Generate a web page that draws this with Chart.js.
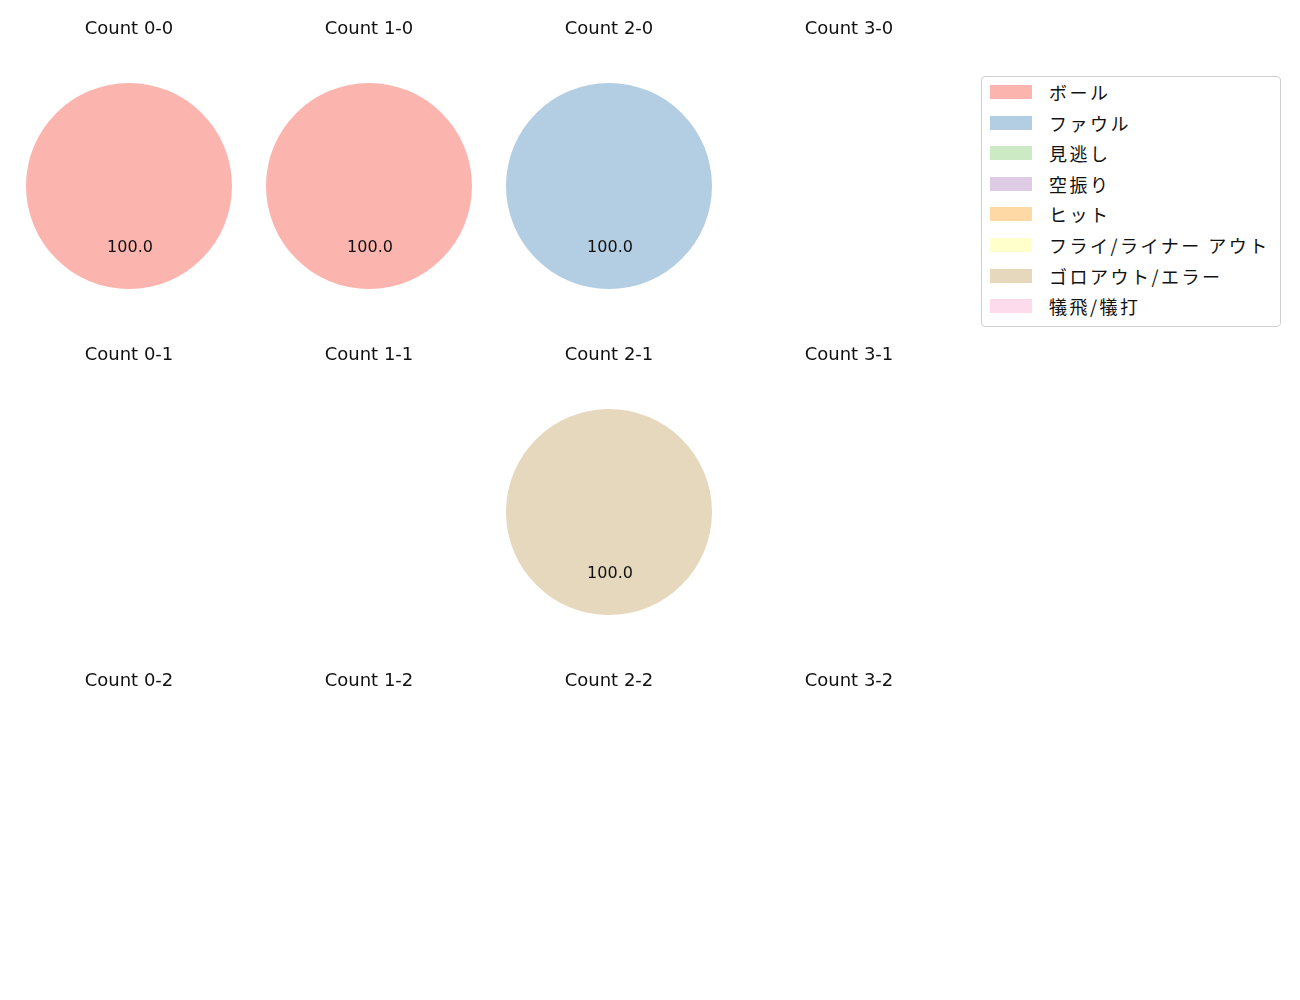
<!DOCTYPE html>
<html>
<head>
<meta charset="utf-8">
<script src="https://cdn.jsdelivr.net/npm/chart.js@4.4.1/dist/chart.umd.min.js"></script>
<style>
  html, body { margin: 0; padding: 0; background: #fff; }
  body { width: 1300px; height: 1000px; position: relative; overflow: hidden;
         font-family: "Noto Sans CJK JP", "Noto Sans", sans-serif; }
  .cell { position: absolute; width: 240px; height: 289px; }
  #legend { position: absolute; left: 981px; top: 76px; width: 298px; height: 249px;
            border: 1px solid #d0d0d0; border-radius: 4px; box-sizing: content-box; }
  .item { position: absolute; left: 8px; height: 20px; display: flex; align-items: center; }
  .sw { width: 42px; height: 14px; margin-right: 17px; }
  .lbl { font-size: 18px; color: #111; white-space: nowrap; letter-spacing: 2.5px;
         font-family: "Noto Sans CJK JP", sans-serif; }
</style>
</head>
<body>
<div id="legend"></div>
<script>
const categories = ["ボール", "ファウル", "見逃し", "空振り", "ヒット", "フライ/ライナー アウト", "ゴロアウト/エラー", "犠飛/犠打"];
const colors = ["#fbb4ae", "#b3cde3", "#ccebc5", "#decbe4", "#fed9a6", "#ffffcc", "#e5d8bd", "#fddaec"];
const countTitles = ["Count 0-0", "Count 1-0", "Count 2-0", "Count 3-0",
                     "Count 0-1", "Count 1-1", "Count 2-1", "Count 3-1",
                     "Count 0-2", "Count 1-2", "Count 2-2", "Count 3-2"];
// percentage of each category per count (order follows categories)
const count00 = [100, 0, 0, 0, 0, 0, 0, 0];
const count10 = [100, 0, 0, 0, 0, 0, 0, 0];
const count20 = [0, 100, 0, 0, 0, 0, 0, 0];
const count30 = [0, 0, 0, 0, 0, 0, 0, 0];
const count01 = [0, 0, 0, 0, 0, 0, 0, 0];
const count11 = [0, 0, 0, 0, 0, 0, 0, 0];
const count21 = [0, 0, 0, 0, 0, 0, 100, 0];
const count31 = [0, 0, 0, 0, 0, 0, 0, 0];
const count02 = [0, 0, 0, 0, 0, 0, 0, 0];
const count12 = [0, 0, 0, 0, 0, 0, 0, 0];
const count22 = [0, 0, 0, 0, 0, 0, 0, 0];
const count32 = [0, 0, 0, 0, 0, 0, 0, 0];
const countData = [count00, count10, count20, count30,
                   count01, count11, count21, count31,
                   count02, count12, count22, count32];

const FONT = '"DejaVu Sans", "Noto Sans", sans-serif';

const pctLabels = {
  id: 'pctLabels',
  afterDatasetsDraw(chart) {
    const ctx = chart.ctx;
    const meta = chart.getDatasetMeta(0);
    const data = chart.data.datasets[0].data;
    const total = data.reduce((a, b) => a + b, 0);
    if (!total) return;
    ctx.save();
    ctx.fillStyle = '#111';
    ctx.font = '16px ' + FONT;
    ctx.textAlign = 'center';
    ctx.textBaseline = 'middle';
    meta.data.forEach((arc, i) => {
      if (!data[i]) return;
      const p = arc.getProps(['x', 'y', 'startAngle', 'endAngle', 'outerRadius'], true);
      const mid = (p.startAngle + p.endAngle) / 2;
      const r = p.outerRadius * 0.6;
      ctx.fillText((data[i] / total * 100).toFixed(1), p.x + 1 + Math.cos(mid) * r, p.y + Math.sin(mid) * r);
    });
    ctx.restore();
  }
};

const colCenters = [129, 369, 609, 849];
const rowTops = [0, 326, 652];

countTitles.forEach((title, idx) => {
  const col = idx % 4, row = Math.floor(idx / 4);
  const div = document.createElement('div');
  div.className = 'cell';
  div.style.left = (colCenters[col] - 120) + 'px';
  div.style.top = rowTops[row] + 'px';
  const cv = document.createElement('canvas');
  div.appendChild(cv);
  document.body.appendChild(div);
  new Chart(cv, {
    type: 'pie',
    data: {
      labels: categories,
      datasets: [{ data: countData[idx], backgroundColor: colors, borderWidth: 0 }]
    },
    options: {
      responsive: true,
      maintainAspectRatio: false,
      animation: false,
      rotation: 0,
      layout: { padding: 0 },
      plugins: {
        legend: { display: false },
        tooltip: { enabled: false },
        title: {
          display: true, text: title, color: '#111',
          font: { family: FONT, size: 18, weight: 'normal', lineHeight: 1.2 },
          padding: { top: 18.7, bottom: 42.7 }
        }
      }
    },
    plugins: [pctLabels]
  });
});

const legend = document.getElementById('legend');
categories.forEach((c, i) => {
  const it = document.createElement('div');
  it.className = 'item';
  it.style.top = (5 + i * 30.6) + 'px';
  it.innerHTML = '<div class="sw" style="background:' + colors[i] + '"></div><span class="lbl">' + c + '</span>';
  legend.appendChild(it);
});
</script>
</body>
</html>
